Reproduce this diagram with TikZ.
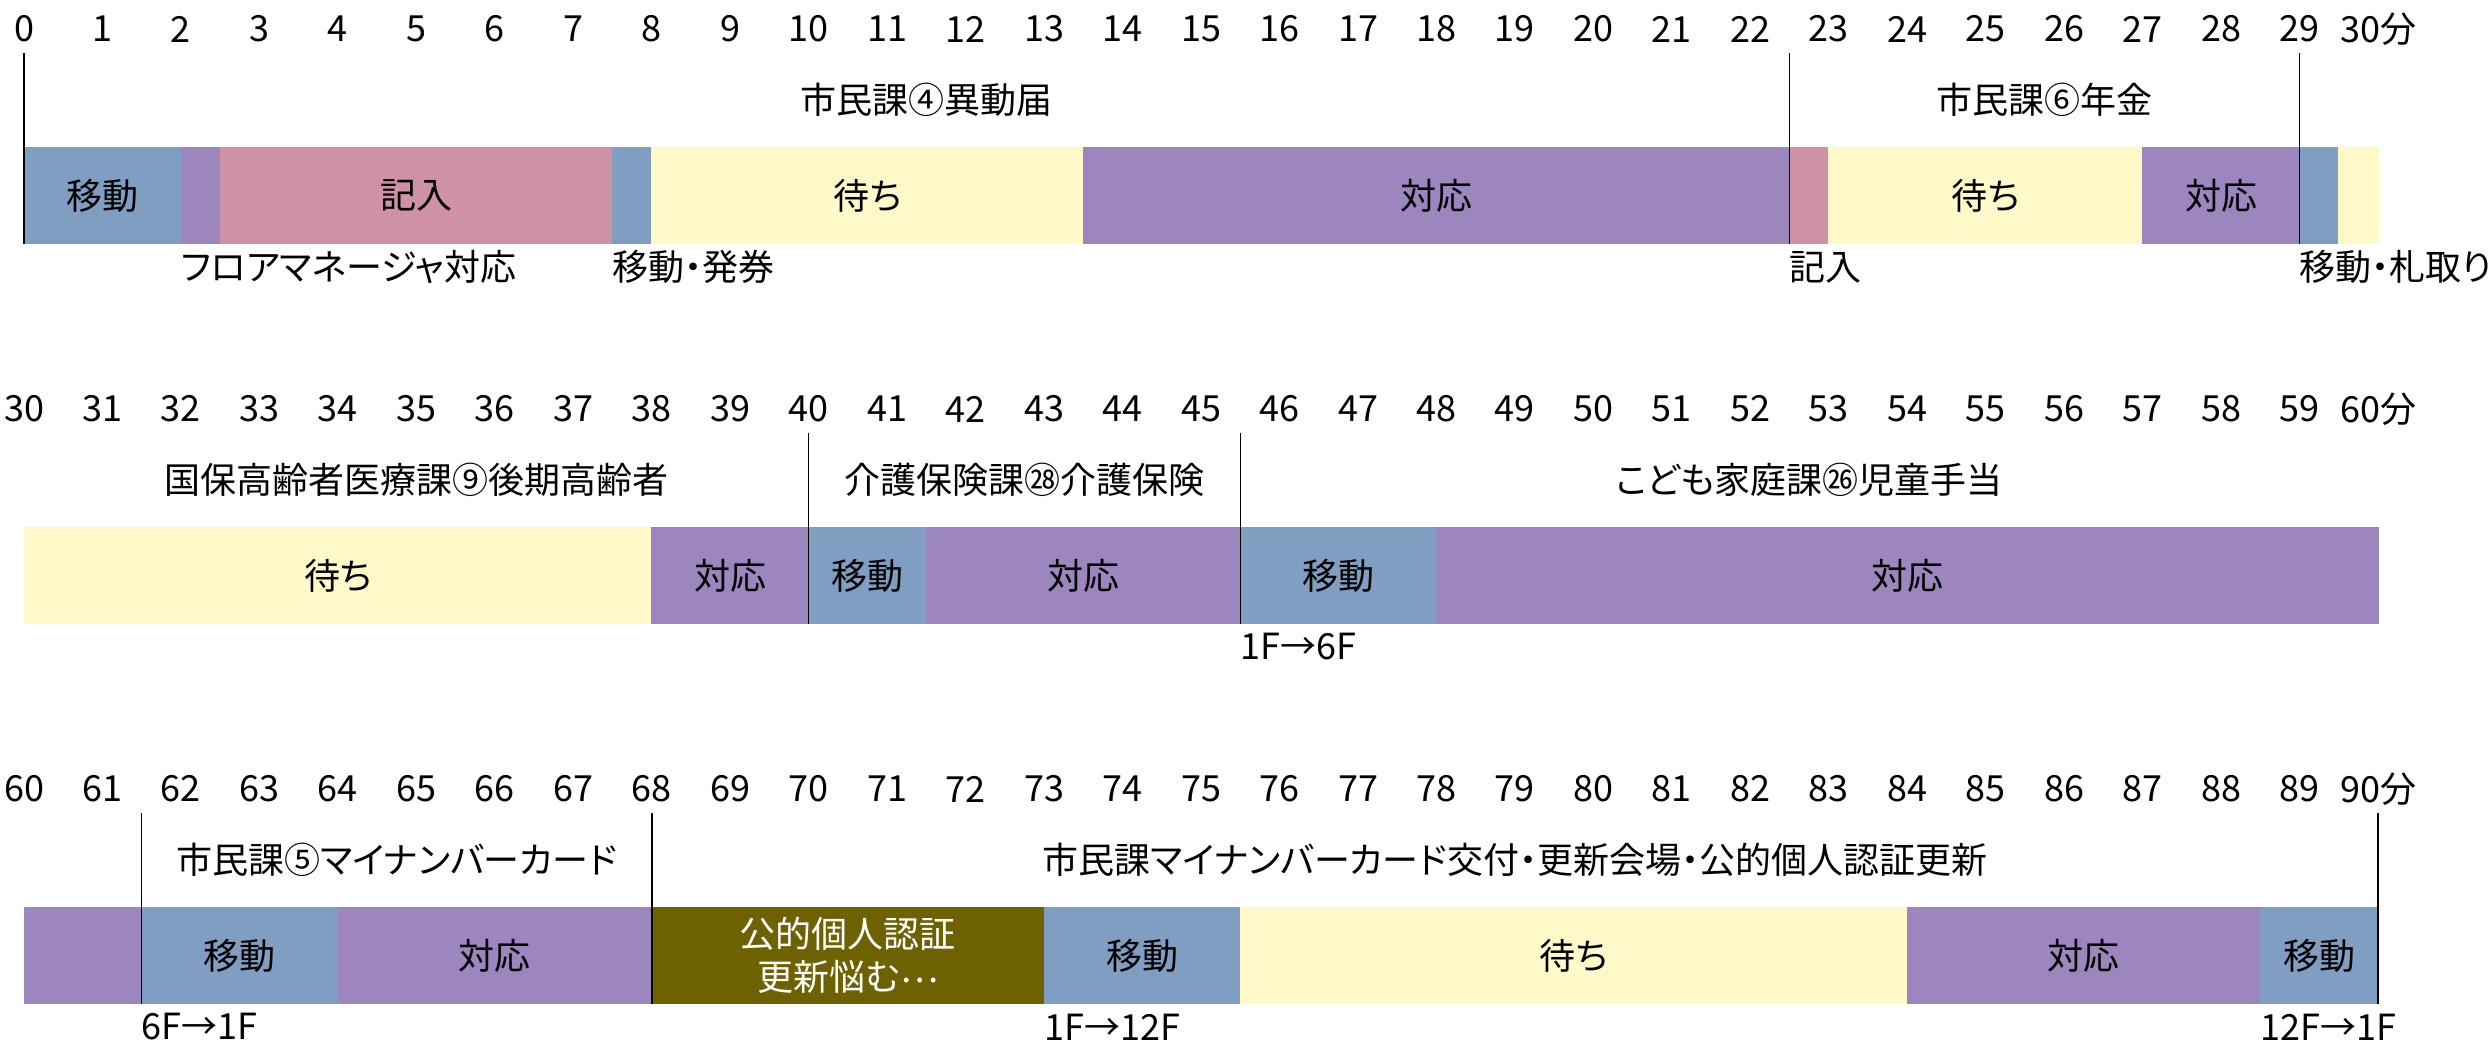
\documentclass[tikz,border=0pt]{standalone}
\usepackage{fontspec}
\setmainfont{Noto Sans CJK JP}[RawFeature={+palt}]
\definecolor{cblue}{HTML}{7F9EC2}
\definecolor{cpurple}{HTML}{9D85BE}
\definecolor{cpink}{HTML}{CF91A5}
\definecolor{cyellow}{HTML}{FFF9C9}
\definecolor{colive}{HTML}{6E6200}
\newcommand{\segm}[7]{% name,row,start,end,colour,textcolour,text
  \pgfmathsetmacro{\sx}{24+78.47*((#3)+(#4))/2}%
  \pgfmathsetmacro{\sw}{78.47*((#4)-(#3))+0.8}%
  \pgfmathsetmacro{\sy}{195.5+380*(#2)}%
  \node[seg, fill=#5, text=#6, minimum width=\sw pt] (#1) at (\sx,\sy) {#7};%
}
\newcommand{\sepline}[3]{% name,row,minute
  \pgfmathsetmacro{\lx}{24+78.47*(#3)}%
  \pgfmathsetmacro{\lt}{53+380*(#2)}%
  \pgfmathsetmacro{\lb}{244+380*(#2)}%
  \coordinate (#1t) at (\lx,\lt);%
  \coordinate (#1b) at (\lx,\lb);%
  \draw[tline] (#1t) -- (#1b);%
}
\newcommand{\deptlbl}[4]{% name,row,minute,text
  \pgfmathsetmacro{\lx}{24+78.47*(#3)}%
  \pgfmathsetmacro{\ly}{100+380*(#2)}%
  \node[lbl] (#1) at (\lx,\ly) {#4};%
}
\newcommand{\noteb}[4]{% name,row,minute,text
  \pgfmathsetmacro{\lx}{24+78.47*(#3)}%
  \pgfmathsetmacro{\ly}{267+380*(#2)}%
  \node[lbl, anchor=west] (#1) at (\lx,\ly) {#4};%
}
\begin{document}
\begin{tikzpicture}[x=1pt,y=-1pt,
  seg/.style={rectangle, inner sep=0pt, minimum height=97pt, draw=none,
    font=\fontsize{36}{43}\selectfont, align=center},
  lbl/.style={inner sep=0pt, font=\fontsize{36}{43}\selectfont, text=black},
  num/.style={inner sep=0pt, font=\fontsize{36}{43}\selectfont, text=black},
  tline/.style={line width=1.5pt, black}]
\useasboundingbox[fill=white] (0,0) rectangle (2491,1042);
% minute numbers
\foreach \r in {0,1,2}{
  \foreach \i in {0,...,29}{
    \pgfmathtruncatemacro{\v}{30*\r+\i}
    \pgfmathsetmacro{\nx}{24+78.47*\i}
    \pgfmathsetmacro{\ny}{29+380*\r}
    \node[num] (n\v) at (\nx,\ny) {\v};
  }
}
\node[num] (n30e) at (2378,29) {30分};
\node[num] (n60e) at (2378,409) {60分};
\node[num] (n90e) at (2378,789) {90分};
% row 1
\segm{a1}{0}{0}{2}{cblue}{black}{移動}
\segm{a2}{0}{2}{2.5}{cpurple}{black}{}
\segm{a3}{0}{2.5}{7.5}{cpink}{black}{記入}
\segm{a4}{0}{7.5}{8}{cblue}{black}{}
\segm{a5}{0}{8}{13.5}{cyellow}{black}{待ち}
\segm{a6}{0}{13.5}{22.5}{cpurple}{black}{対応}
\segm{a7}{0}{22.5}{23}{cpink}{black}{}
\segm{a8}{0}{23}{27}{cyellow}{black}{待ち}
\segm{a9}{0}{27}{29}{cpurple}{black}{対応}
\segm{a10}{0}{29}{29.5}{cblue}{black}{}
\segm{a11}{0}{29.5}{30}{cyellow}{black}{}
% row 2
\segm{b1}{1}{0}{8}{cyellow}{black}{待ち}
\segm{b2}{1}{8}{10}{cpurple}{black}{対応}
\segm{b3}{1}{10}{11.5}{cblue}{black}{移動}
\segm{b4}{1}{11.5}{15.5}{cpurple}{black}{対応}
\segm{b5}{1}{15.5}{18}{cblue}{black}{移動}
\segm{b6}{1}{18}{30}{cpurple}{black}{対応}
% row 3
\segm{c1}{2}{0}{1.5}{cpurple}{black}{}
\segm{c2}{2}{1.5}{4}{cblue}{black}{移動}
\segm{c3}{2}{4}{8}{cpurple}{black}{対応}
\segm{c4}{2}{8}{13}{colive}{white}{公的個人認証\\更新悩む\raisebox{0.22em}{…}}
\segm{c5}{2}{13}{15.5}{cblue}{black}{移動}
\segm{c6}{2}{15.5}{24}{cyellow}{black}{待ち}
\segm{c7}{2}{24}{28.5}{cpurple}{black}{対応}
\segm{c8}{2}{28.5}{30}{cblue}{black}{移動}
% separator lines
\sepline{la}{0}{0}
\sepline{lb}{0}{22.5}
\sepline{lc}{0}{29}
\sepline{ld}{1}{10}
\sepline{le}{1}{15.5}
\sepline{lf}{2}{1.5}
\sepline{lg}{2}{8}
\sepline{lh}{2}{30}
% department labels
\deptlbl{d1}{0}{11.5}{市民課④異動届}
\deptlbl{d2}{0}{25.75}{市民課⑥年金}
\deptlbl{d3}{1}{5}{国保高齢者医療課⑨後期高齢者}
\deptlbl{d4}{1}{12.75}{介護保険課㉘介護保険}
\deptlbl{d5}{1}{22.75}{こども家庭課㉖児童手当}
\deptlbl{d6}{2}{4.75}{市民課⑤マイナンバーカード}
\deptlbl{d7}{2}{19}{市民課マイナンバーカード交付・更新会場・公的個人認証更新}
% notes below
\noteb{e1}{0}{2}{フロアマネージャ対応}
\noteb{e2}{0}{7.5}{移動・発券}
\noteb{e3}{0}{22.5}{記入}
\noteb{e4}{0}{29}{移動・札取り}
\noteb{e5}{1}{15.5}{1F→6F}
\noteb{e6}{2}{1.5}{6F→1F}
\noteb{e7}{2}{13}{1F→12F}
\noteb{e8}{2}{28.5}{12F→1F}
\end{tikzpicture}
\end{document}
